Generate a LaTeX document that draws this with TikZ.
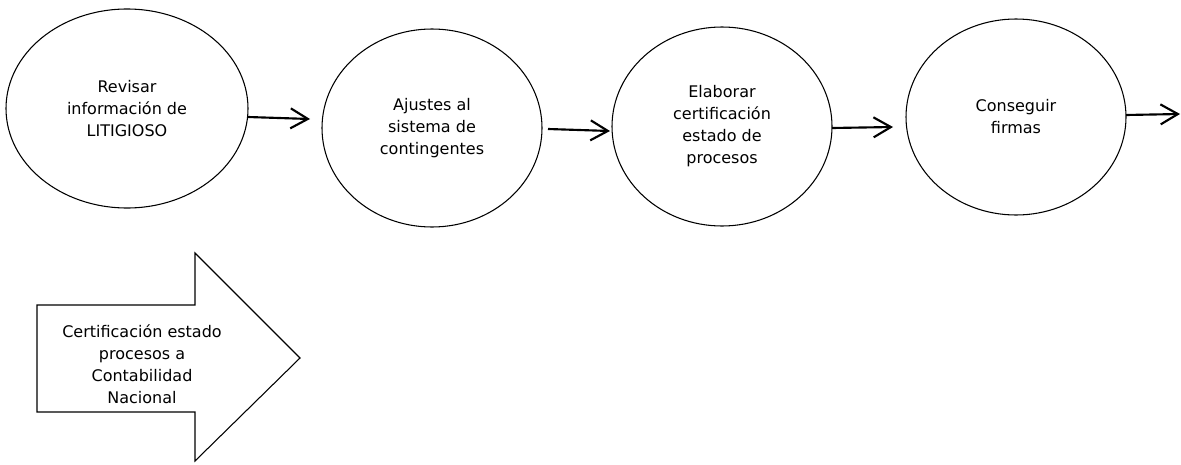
\documentclass[tikz,border=0pt]{standalone}
\usepackage{fontspec}
\setmainfont{DejaVu Sans}
\usetikzlibrary{shapes.geometric,arrows.meta}
\tikzset{
  stage/.style={draw=black, line width=0.8pt, ellipse, inner sep=0pt, align=center,
    font=\fontsize{12pt}{16.5pt}\selectfont},
  flow/.style={draw=black, line width=1.6pt, -{Straight Barb[length=13pt,width=15pt,line width=1.6pt]}},
  blockarrow/.style={draw=black, line width=0.8pt, line join=miter},
  lbl/.style={align=center, inner sep=0pt, font=\fontsize{12pt}{16.5pt}\selectfont}
}
\begin{document}
\begin{tikzpicture}[x=0.75pt,y=-0.75pt]
\useasboundingbox (0,0) rectangle (1181,464);
\node[stage, minimum width=242*0.75pt, minimum height=199*0.75pt] (e1) at (127,108.5) {Revisar\\información de\\LITIGIOSO};
\node[stage, minimum width=220*0.75pt, minimum height=198*0.75pt] (e2) at (432,128) {Ajustes al\\sistema de\\contingentes};
\node[stage, minimum width=220*0.75pt, minimum height=199*0.75pt] (e3) at (722,126.5) {Elaborar\\certificación\\estado de\\procesos};
\node[stage, minimum width=220*0.75pt, minimum height=196*0.75pt] (e4) at (1016,117) {Conseguir\\firmas};
\coordinate (a1s) at (248,117);  \coordinate (a1e) at (310,119);
\coordinate (a2s) at (548,129);  \coordinate (a2e) at (610,131);
\coordinate (a3s) at (832,128);  \coordinate (a3e) at (893,127);
\coordinate (a4s) at (1126,115); \coordinate (a4e) at (1180,114);
\draw[flow] (a1s) -- (a1e);
\draw[flow] (a2s) -- (a2e);
\draw[flow] (a3s) -- (a3e);
\draw[flow] (a4s) -- (a4e);
\draw[blockarrow] (37,305) -- (195,305) -- (195,253) -- (300,358) -- (195,461) -- (195,412) -- (37,412) -- cycle;
\node[lbl] (out) at (142,364) {Certificación estado\\procesos a\\Contabilidad\\Nacional};
\end{tikzpicture}
\end{document}
